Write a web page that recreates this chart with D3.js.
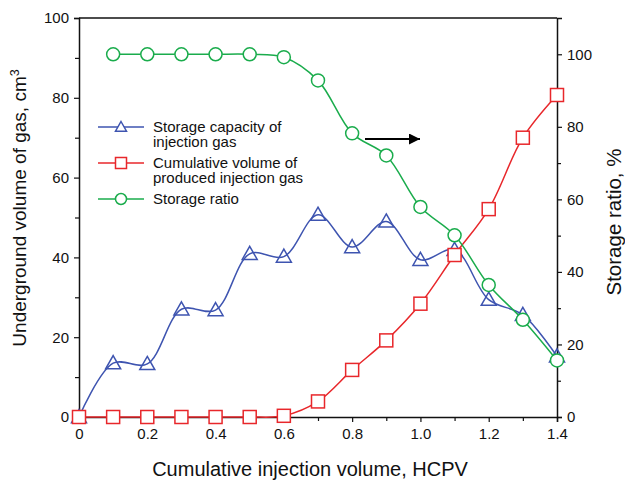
<!DOCTYPE html>
<html>
<head>
<meta charset="utf-8">
<script src="https://cdn.jsdelivr.net/npm/d3@7"></script>
<style>
  body { margin: 0; background: #fff; }
  text { font-family: "Liberation Sans", Arial, sans-serif; fill: #111; }
</style>
</head>
<body>
<div id="chart"></div>
<script>
// data
const hcpv = [0, 0.1, 0.2, 0.3, 0.4, 0.5, 0.6, 0.7, 0.8, 0.9, 1.0, 1.1, 1.2, 1.3, 1.4];
const storageCapacity = [0, 13.5, 13.3, 27.0, 26.8, 40.9, 40.2, 50.7, 42.6, 49.0, 39.4, 41.9, 29.4, 25.6, 15.2];
const producedGas = [0, 0, 0, 0, 0, 0, 0.3, 3.9, 11.8, 19.2, 28.4, 40.6, 52.1, 70.0, 80.7];
const ratioX = [0.1, 0.2, 0.3, 0.4, 0.5, 0.6, 0.7, 0.8, 0.9, 1.0, 1.1, 1.2, 1.3, 1.4];
const storageRatio = [100, 100, 100, 100, 100, 99.2, 92.8, 78.2, 72.1, 57.9, 50.1, 36.4, 26.8, 15.6];
const xTicks = [0, 0.2, 0.4, 0.6, 0.8, 1.0, 1.2, 1.4];
const leftTicks = [0, 20, 40, 60, 80, 100];
const rightTicks = [0, 20, 40, 60, 80, 100];

const width = 625, height = 486;
const margin = { top: 18, right: 68, bottom: 69, left: 79 };

const BLUE = "#3e54b0", RED = "#e8272b", GREEN = "#1aac4c";

const svg = d3.select("#chart").append("svg")
    .attr("width", width).attr("height", height);

const x = d3.scaleLinear().domain([0, 1.4]).range([margin.left, width - margin.right]);
const yL = d3.scaleLinear().domain([0, 100]).range([height - margin.bottom, margin.top]);
const yR = d3.scaleLinear().domain([0, 110]).range([height - margin.bottom, margin.top]);

// axes
svg.append("g").attr("transform", `translate(0,${height - margin.bottom})`)
    .call(d3.axisBottom(x).tickValues(xTicks).tickSize(5).tickPadding(6)
        .tickFormat(d => d === 0 ? "0" : d3.format(".1f")(d)));
svg.append("g").attr("transform", `translate(0,${height - margin.bottom})`)
    .call(d3.axisBottom(x).tickValues(d3.range(1, 14, 2).map(d => d / 10)).tickSize(4).tickFormat(""))
    .select(".domain").remove();

svg.append("g").attr("transform", `translate(${margin.left},0)`)
    .call(d3.axisLeft(yL).tickValues(leftTicks).tickSize(5).tickPadding(5));
svg.append("g").attr("transform", `translate(${margin.left},0)`)
    .call(d3.axisLeft(yL).tickValues([10, 30, 50, 70, 90]).tickSize(4).tickFormat(""))
    .select(".domain").remove();

svg.append("g").attr("transform", `translate(${width - margin.right},0)`)
    .call(d3.axisRight(yR).tickValues(rightTicks).tickSize(5).tickPadding(5));
svg.append("g").attr("transform", `translate(${width - margin.right},0)`)
    .call(d3.axisRight(yR).tickValues([10, 30, 50, 70, 90]).tickSize(4).tickFormat(""))
    .select(".domain").remove();

// top border
svg.append("line")
    .attr("x1", margin.left).attr("x2", width - margin.right)
    .attr("y1", margin.top).attr("y2", margin.top)
    .attr("stroke", "#111").attr("stroke-width", 1.5);

svg.selectAll(".domain").attr("stroke", "#111").attr("stroke-width", 1.5);
svg.selectAll(".tick line").attr("stroke", "#111").attr("stroke-width", 1.2);
svg.selectAll(".tick text").attr("font-size", 15).style("font-family", "Liberation Sans, Arial, sans-serif").attr("fill", "#111");

// axis titles
svg.append("text")
    .attr("x", 310).attr("y", 476)
    .attr("text-anchor", "middle").attr("font-size", 20)
    .text("Cumulative injection volume, HCPV");

const lt = svg.append("text")
    .attr("transform", `translate(26,208) rotate(-90)`)
    .attr("text-anchor", "middle").attr("font-size", 19);
lt.append("tspan").text("Underground volume of gas, cm");
lt.append("tspan").attr("font-size", 12.5).attr("dy", -7).text("3");

svg.append("text")
    .attr("transform", `translate(621,222) rotate(-90)`)
    .attr("text-anchor", "middle").attr("font-size", 20.5)
    .text("Storage ratio, %");

// lines
const curve = d3.curveCatmullRom.alpha(0.5);
function drawSeries(xs, ys, yScale, color, marker) {
    const pts = xs.map((d, i) => [x(d), yScale(ys[i])]);
    svg.append("path")
        .attr("d", d3.line().curve(curve)(pts))
        .attr("fill", "none").attr("stroke", color).attr("stroke-width", 1.5);
    const g = svg.append("g");
    pts.forEach(p => drawMarker(g, p[0], p[1], color, marker));
}

function drawMarker(g, cx, cy, color, marker) {
    if (marker === "circle") {
        g.append("circle").attr("cx", cx).attr("cy", cy).attr("r", 6.5)
            .attr("fill", "#fff").attr("stroke", color).attr("stroke-width", 1.5);
    } else if (marker === "square") {
        g.append("rect").attr("x", cx - 6.5).attr("y", cy - 6.5)
            .attr("width", 13).attr("height", 13)
            .attr("fill", "#fff").attr("stroke", color).attr("stroke-width", 1.5);
    } else {
        const s = 7.5;
        g.append("path")
            .attr("d", `M${cx},${cy - s}L${cx + s},${cy + s * 0.75}L${cx - s},${cy + s * 0.75}Z`)
            .attr("fill", "none").attr("stroke", color).attr("stroke-width", 1.5);
    }
}

drawSeries(hcpv, storageCapacity, yL, BLUE, "triangle");
drawSeries(hcpv, producedGas, yL, RED, "square");
drawSeries(ratioX, storageRatio, yR, GREEN, "circle");

// arrow pointing to right axis
svg.append("defs").append("marker")
    .attr("id", "arrow").attr("viewBox", "0 0 10 10")
    .attr("refX", 10).attr("refY", 5)
    .attr("markerWidth", 5).attr("markerHeight", 5)
    .attr("markerUnits", "strokeWidth")
    .attr("orient", "auto")
    .append("path").attr("d", "M0,0L10,5L0,10Z").attr("fill", "#000");
svg.append("line")
    .attr("x1", 365).attr("x2", 420).attr("y1", 139).attr("y2", 139)
    .attr("stroke", "#000").attr("stroke-width", 2.2)
    .attr("marker-end", "url(#arrow)");

// legend
const legend = [
    { lines: ["Storage capacity of", "injection gas"], color: BLUE, marker: "triangle", y: 127 },
    { lines: ["Cumulative volume of", "produced injection gas"], color: RED, marker: "square", y: 163 },
    { lines: ["Storage ratio"], color: GREEN, marker: "circle", y: 199 }
];
const lg = svg.append("g");
legend.forEach(d => {
    lg.append("line").attr("x1", 98).attr("x2", 144).attr("y1", d.y).attr("y2", d.y)
        .attr("stroke", d.color).attr("stroke-width", 1.5);
    if (d.marker === "triangle") {
        const s = 5.5;
        lg.append("path")
            .attr("d", `M121,${d.y - s}L${121 + s},${d.y + s * 0.75}L${121 - s},${d.y + s * 0.75}Z`)
            .attr("fill", "#fff").attr("stroke", d.color).attr("stroke-width", 1.5);
    } else if (d.marker === "square") {
        lg.append("rect").attr("x", 115.5).attr("y", d.y - 5.5).attr("width", 11).attr("height", 11)
            .attr("fill", "#fff").attr("stroke", d.color).attr("stroke-width", 1.5);
    } else {
        lg.append("circle").attr("cx", 121).attr("cy", d.y).attr("r", 5.5)
            .attr("fill", "#fff").attr("stroke", d.color).attr("stroke-width", 1.5);
    }
    const t = lg.append("text").attr("x", 153).attr("y", d.y + 5).attr("font-size", 15);
    d.lines.forEach((s, i) => {
        t.append("tspan").attr("x", 153).attr("dy", i === 0 ? 0 : 15).text(s);
    });
});
</script>
</body>
</html>
